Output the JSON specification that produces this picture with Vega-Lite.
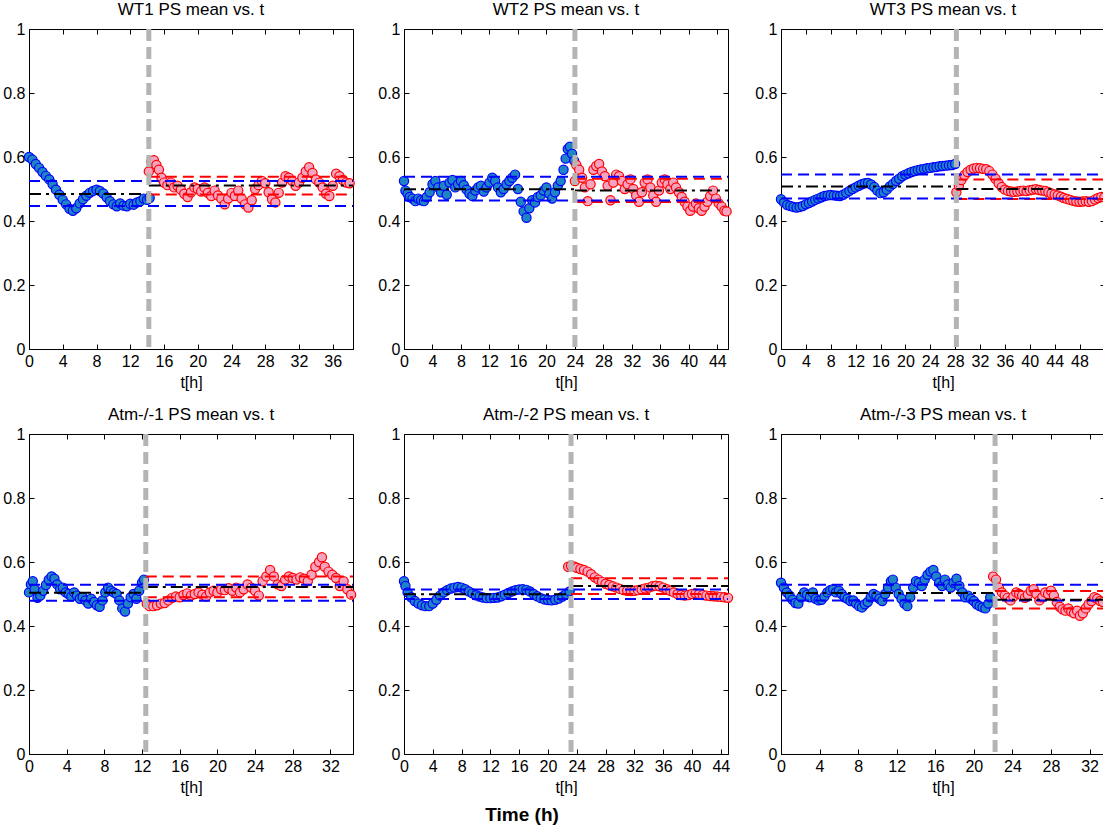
{
  "$schema": "https://vega.github.io/schema/vega-lite/v6.json",
  "padding": {"left": 2, "top": 0, "right": 2, "bottom": 2},
  "background": "white",
  "title": {"text": "Time (h)", "orient": "bottom", "anchor": "middle", "frame": "bounds", "fontSize": 19, "fontWeight": "bold", "font": "Liberation Sans", "color": "black", "dx": -35, "offset": 10},
  "columns": 3,
  "spacing": {"row": 14, "column": 18},
  "datasets": {
    "w1a": [{"t":0,"v":0.6},{"t":0.4,"v":0.592},{"t":0.8,"v":0.578},{"t":1.2,"v":0.566},{"t":1.6,"v":0.553},{"t":2.0,"v":0.541},{"t":2.4,"v":0.53},{"t":2.8,"v":0.515},{"t":3.2,"v":0.498},{"t":3.6,"v":0.482},{"t":4.0,"v":0.466},{"t":4.4,"v":0.452},{"t":4.8,"v":0.438},{"t":5.2,"v":0.432},{"t":5.6,"v":0.44},{"t":6.0,"v":0.455},{"t":6.4,"v":0.468},{"t":6.8,"v":0.479},{"t":7.2,"v":0.488},{"t":7.6,"v":0.494},{"t":8.0,"v":0.498},{"t":8.4,"v":0.494},{"t":8.8,"v":0.486},{"t":9.2,"v":0.474},{"t":9.6,"v":0.462},{"t":10.0,"v":0.452},{"t":10.4,"v":0.446},{"t":10.8,"v":0.455},{"t":11.2,"v":0.448},{"t":11.6,"v":0.446},{"t":12.0,"v":0.454},{"t":12.4,"v":0.451},{"t":12.8,"v":0.458},{"t":13.2,"v":0.462},{"t":13.6,"v":0.47},{"t":14.0,"v":0.466},{"t":14.3,"v":0.472}],
    "w1b": [{"t":14.2,"v":0.555},{"t":14.5,"v":0.585},{"t":14.8,"v":0.59},{"t":15.1,"v":0.575},{"t":15.4,"v":0.56},{"t":15.7,"v":0.535},{"t":16.0,"v":0.52},{"t":16.4,"v":0.512},{"t":16.8,"v":0.52},{"t":17.2,"v":0.505},{"t":17.6,"v":0.51},{"t":18.0,"v":0.498},{"t":18.4,"v":0.485},{"t":18.8,"v":0.475},{"t":19.2,"v":0.49},{"t":19.6,"v":0.505},{"t":20.0,"v":0.5},{"t":20.4,"v":0.492},{"t":20.8,"v":0.505},{"t":21.2,"v":0.488},{"t":21.6,"v":0.478},{"t":22.0,"v":0.495},{"t":22.4,"v":0.48},{"t":22.8,"v":0.47},{"t":23.2,"v":0.452},{"t":23.6,"v":0.47},{"t":24.0,"v":0.488},{"t":24.4,"v":0.478},{"t":24.8,"v":0.495},{"t":25.2,"v":0.47},{"t":25.6,"v":0.452},{"t":26.0,"v":0.442},{"t":26.4,"v":0.465},{"t":26.8,"v":0.5},{"t":27.2,"v":0.512},{"t":27.6,"v":0.525},{"t":28.0,"v":0.518},{"t":28.4,"v":0.49},{"t":28.8,"v":0.468},{"t":29.2,"v":0.458},{"t":29.6,"v":0.488},{"t":30.0,"v":0.52},{"t":30.4,"v":0.54},{"t":30.8,"v":0.535},{"t":31.2,"v":0.525},{"t":31.6,"v":0.51},{"t":32.0,"v":0.52},{"t":32.4,"v":0.535},{"t":32.8,"v":0.555},{"t":33.2,"v":0.568},{"t":33.6,"v":0.55},{"t":34.0,"v":0.53},{"t":34.4,"v":0.52},{"t":34.8,"v":0.505},{"t":35.2,"v":0.485},{"t":35.6,"v":0.478},{"t":36.0,"v":0.51},{"t":36.4,"v":0.548},{"t":36.8,"v":0.54},{"t":37.2,"v":0.528},{"t":37.6,"v":0.52},{"t":38.0,"v":0.518}],
    "w2a": [{"t":0,"v":0.525},{"t":0.2,"v":0.495},{"t":0.5,"v":0.485},{"t":0.8,"v":0.475},{"t":1.2,"v":0.47},{"t":1.6,"v":0.462},{"t":2.0,"v":0.47},{"t":2.4,"v":0.465},{"t":2.8,"v":0.462},{"t":3.2,"v":0.475},{"t":3.6,"v":0.49},{"t":4.0,"v":0.515},{"t":4.4,"v":0.525},{"t":4.8,"v":0.505},{"t":5.2,"v":0.49},{"t":5.6,"v":0.51},{"t":6.0,"v":0.482},{"t":6.4,"v":0.52},{"t":6.8,"v":0.528},{"t":7.2,"v":0.505},{"t":7.6,"v":0.515},{"t":8.0,"v":0.525},{"t":8.4,"v":0.512},{"t":8.8,"v":0.498},{"t":9.2,"v":0.485},{"t":9.6,"v":0.478},{"t":10.0,"v":0.495},{"t":10.4,"v":0.505},{"t":10.8,"v":0.51},{"t":11.2,"v":0.492},{"t":11.6,"v":0.505},{"t":12.0,"v":0.52},{"t":12.4,"v":0.535},{"t":12.8,"v":0.525},{"t":13.2,"v":0.505},{"t":13.6,"v":0.49},{"t":14.0,"v":0.5},{"t":14.4,"v":0.515},{"t":14.8,"v":0.525},{"t":15.2,"v":0.535},{"t":15.6,"v":0.545},{"t":16.0,"v":0.5},{"t":16.4,"v":0.46},{"t":16.8,"v":0.43},{"t":17.2,"v":0.41},{"t":17.6,"v":0.44},{"t":18.0,"v":0.465},{"t":18.4,"v":0.458},{"t":18.8,"v":0.475},{"t":19.2,"v":0.48},{"t":19.6,"v":0.495},{"t":20.0,"v":0.505},{"t":20.4,"v":0.485},{"t":20.8,"v":0.47},{"t":21.2,"v":0.49},{"t":21.6,"v":0.51},{"t":22.0,"v":0.525},{"t":22.4,"v":0.56},{"t":22.7,"v":0.595},{"t":23.0,"v":0.625},{"t":23.3,"v":0.632},{"t":23.6,"v":0.61},{"t":23.9,"v":0.588}],
    "w2b": [{"t":24.0,"v":0.525},{"t":24.2,"v":0.575},{"t":24.6,"v":0.56},{"t":25.0,"v":0.535},{"t":25.4,"v":0.505},{"t":25.8,"v":0.462},{"t":26.2,"v":0.515},{"t":26.6,"v":0.56},{"t":27.0,"v":0.572},{"t":27.4,"v":0.578},{"t":27.8,"v":0.555},{"t":28.2,"v":0.54},{"t":28.6,"v":0.51},{"t":29.0,"v":0.465},{"t":29.4,"v":0.52},{"t":29.8,"v":0.545},{"t":30.2,"v":0.54},{"t":30.6,"v":0.525},{"t":31.0,"v":0.5},{"t":31.4,"v":0.515},{"t":31.8,"v":0.53},{"t":32.2,"v":0.5},{"t":32.6,"v":0.48},{"t":33.0,"v":0.46},{"t":33.4,"v":0.49},{"t":33.8,"v":0.52},{"t":34.2,"v":0.53},{"t":34.6,"v":0.505},{"t":35.0,"v":0.48},{"t":35.4,"v":0.46},{"t":35.8,"v":0.495},{"t":36.2,"v":0.52},{"t":36.6,"v":0.53},{"t":37.0,"v":0.515},{"t":37.4,"v":0.5},{"t":37.8,"v":0.52},{"t":38.2,"v":0.505},{"t":38.6,"v":0.49},{"t":39.0,"v":0.475},{"t":39.4,"v":0.46},{"t":39.8,"v":0.445},{"t":40.2,"v":0.432},{"t":40.6,"v":0.445},{"t":41.0,"v":0.455},{"t":41.4,"v":0.44},{"t":41.8,"v":0.432},{"t":42.2,"v":0.445},{"t":42.6,"v":0.46},{"t":43.0,"v":0.478},{"t":43.4,"v":0.495},{"t":43.8,"v":0.47},{"t":44.2,"v":0.455},{"t":44.6,"v":0.445},{"t":45.0,"v":0.432},{"t":45.3,"v":0.43}],
    "w3a": [{"t":0,"v":0.468},{"t":0.5,"v":0.458},{"t":1.0,"v":0.45},{"t":1.5,"v":0.447},{"t":2.0,"v":0.444},{"t":2.5,"v":0.442},{"t":3.0,"v":0.444},{"t":3.5,"v":0.447},{"t":4.0,"v":0.452},{"t":4.5,"v":0.456},{"t":5.0,"v":0.461},{"t":5.5,"v":0.466},{"t":6.0,"v":0.47},{"t":6.5,"v":0.474},{"t":7.0,"v":0.478},{"t":7.5,"v":0.48},{"t":8.0,"v":0.481},{"t":8.5,"v":0.48},{"t":9.0,"v":0.479},{"t":9.5,"v":0.478},{"t":10.0,"v":0.482},{"t":10.5,"v":0.488},{"t":11.0,"v":0.494},{"t":11.5,"v":0.5},{"t":12.0,"v":0.505},{"t":12.5,"v":0.51},{"t":13.0,"v":0.515},{"t":13.5,"v":0.518},{"t":14.0,"v":0.519},{"t":14.5,"v":0.514},{"t":15.0,"v":0.506},{"t":15.5,"v":0.495},{"t":16.0,"v":0.487},{"t":16.5,"v":0.49},{"t":17.0,"v":0.498},{"t":17.5,"v":0.508},{"t":18.0,"v":0.516},{"t":18.5,"v":0.525},{"t":19.0,"v":0.532},{"t":19.5,"v":0.54},{"t":20.0,"v":0.545},{"t":20.5,"v":0.549},{"t":21.0,"v":0.553},{"t":21.5,"v":0.556},{"t":22.0,"v":0.559},{"t":22.5,"v":0.561},{"t":23.0,"v":0.563},{"t":23.5,"v":0.565},{"t":24.0,"v":0.566},{"t":24.5,"v":0.568},{"t":25.0,"v":0.569},{"t":25.5,"v":0.571},{"t":26.0,"v":0.572},{"t":26.5,"v":0.573},{"t":27.0,"v":0.574},{"t":27.5,"v":0.575},{"t":28.0,"v":0.578}],
    "w3b": [{"t":28.2,"v":0.49},{"t":28.6,"v":0.51},{"t":29.0,"v":0.528},{"t":29.5,"v":0.543},{"t":30.0,"v":0.553},{"t":30.5,"v":0.56},{"t":31.0,"v":0.564},{"t":31.5,"v":0.566},{"t":32.0,"v":0.565},{"t":32.5,"v":0.563},{"t":33.0,"v":0.562},{"t":33.5,"v":0.556},{"t":34.0,"v":0.545},{"t":34.5,"v":0.532},{"t":35.0,"v":0.518},{"t":35.5,"v":0.506},{"t":36.0,"v":0.498},{"t":36.5,"v":0.494},{"t":37.0,"v":0.492},{"t":37.5,"v":0.491},{"t":38.0,"v":0.492},{"t":38.5,"v":0.494},{"t":39.0,"v":0.495},{"t":39.5,"v":0.494},{"t":40.0,"v":0.496},{"t":40.5,"v":0.498},{"t":41.0,"v":0.499},{"t":41.5,"v":0.497},{"t":42.0,"v":0.495},{"t":42.5,"v":0.494},{"t":43.0,"v":0.49},{"t":43.5,"v":0.486},{"t":44.0,"v":0.483},{"t":44.5,"v":0.48},{"t":45.0,"v":0.476},{"t":45.5,"v":0.472},{"t":46.0,"v":0.469},{"t":46.5,"v":0.466},{"t":47.0,"v":0.463},{"t":47.5,"v":0.461},{"t":48.0,"v":0.46},{"t":48.5,"v":0.461},{"t":49.0,"v":0.462},{"t":49.5,"v":0.46},{"t":50.0,"v":0.462},{"t":50.5,"v":0.467},{"t":51.0,"v":0.472},{"t":51.5,"v":0.475},{"t":52.0,"v":0.474}],
    "a1a": [{"t":0,"v":0.505},{"t":0.2,"v":0.53},{"t":0.4,"v":0.54},{"t":0.6,"v":0.515},{"t":0.9,"v":0.488},{"t":1.2,"v":0.495},{"t":1.5,"v":0.51},{"t":1.8,"v":0.528},{"t":2.1,"v":0.545},{"t":2.4,"v":0.555},{"t":2.7,"v":0.548},{"t":3.0,"v":0.53},{"t":3.3,"v":0.515},{"t":3.6,"v":0.52},{"t":3.9,"v":0.505},{"t":4.2,"v":0.5},{"t":4.5,"v":0.492},{"t":4.8,"v":0.505},{"t":5.1,"v":0.495},{"t":5.4,"v":0.485},{"t":5.7,"v":0.49},{"t":6.0,"v":0.48},{"t":6.3,"v":0.47},{"t":6.6,"v":0.485},{"t":6.9,"v":0.475},{"t":7.2,"v":0.465},{"t":7.5,"v":0.46},{"t":7.8,"v":0.48},{"t":8.1,"v":0.505},{"t":8.4,"v":0.52},{"t":8.7,"v":0.51},{"t":9.0,"v":0.505},{"t":9.3,"v":0.5},{"t":9.6,"v":0.48},{"t":9.9,"v":0.455},{"t":10.2,"v":0.445},{"t":10.5,"v":0.47},{"t":10.8,"v":0.49},{"t":11.1,"v":0.5},{"t":11.4,"v":0.485},{"t":11.7,"v":0.51},{"t":12.0,"v":0.535},{"t":12.2,"v":0.545}],
    "a1b": [{"t":12.5,"v":0.47},{"t":12.8,"v":0.462},{"t":13.2,"v":0.462},{"t":13.6,"v":0.465},{"t":14.0,"v":0.47},{"t":14.4,"v":0.472},{"t":14.8,"v":0.48},{"t":15.2,"v":0.488},{"t":15.6,"v":0.492},{"t":16.0,"v":0.49},{"t":16.4,"v":0.497},{"t":16.8,"v":0.502},{"t":17.2,"v":0.495},{"t":17.6,"v":0.5},{"t":18.0,"v":0.505},{"t":18.4,"v":0.498},{"t":18.8,"v":0.492},{"t":19.2,"v":0.505},{"t":19.6,"v":0.51},{"t":20.0,"v":0.505},{"t":20.4,"v":0.515},{"t":20.8,"v":0.512},{"t":21.2,"v":0.518},{"t":21.6,"v":0.51},{"t":22.0,"v":0.52},{"t":22.4,"v":0.505},{"t":22.8,"v":0.515},{"t":23.2,"v":0.53},{"t":23.6,"v":0.52},{"t":24.0,"v":0.51},{"t":24.4,"v":0.495},{"t":24.8,"v":0.54},{"t":25.2,"v":0.555},{"t":25.6,"v":0.575},{"t":26.0,"v":0.555},{"t":26.4,"v":0.53},{"t":26.8,"v":0.525},{"t":27.2,"v":0.545},{"t":27.6,"v":0.555},{"t":28.0,"v":0.55},{"t":28.4,"v":0.545},{"t":28.8,"v":0.552},{"t":29.2,"v":0.548},{"t":29.6,"v":0.54},{"t":30.0,"v":0.56},{"t":30.4,"v":0.585},{"t":30.8,"v":0.6},{"t":31.1,"v":0.615},{"t":31.4,"v":0.585},{"t":31.8,"v":0.57},{"t":32.2,"v":0.56},{"t":32.6,"v":0.55},{"t":33.0,"v":0.525},{"t":33.4,"v":0.54},{"t":33.8,"v":0.515},{"t":34.2,"v":0.498}],
    "a2a": [{"t":0,"v":0.54},{"t":0.2,"v":0.525},{"t":0.5,"v":0.505},{"t":1.0,"v":0.49},{"t":1.5,"v":0.478},{"t":2.0,"v":0.47},{"t":2.5,"v":0.465},{"t":3.0,"v":0.462},{"t":3.5,"v":0.462},{"t":4.0,"v":0.47},{"t":4.5,"v":0.482},{"t":5.0,"v":0.495},{"t":5.5,"v":0.505},{"t":6.0,"v":0.512},{"t":6.5,"v":0.517},{"t":7.0,"v":0.52},{"t":7.5,"v":0.522},{"t":8.0,"v":0.52},{"t":8.5,"v":0.515},{"t":9.0,"v":0.508},{"t":9.5,"v":0.502},{"t":10.0,"v":0.496},{"t":10.5,"v":0.492},{"t":11.0,"v":0.489},{"t":11.5,"v":0.487},{"t":12.0,"v":0.487},{"t":12.5,"v":0.488},{"t":13.0,"v":0.489},{"t":13.5,"v":0.493},{"t":14.0,"v":0.498},{"t":14.5,"v":0.503},{"t":15.0,"v":0.508},{"t":15.5,"v":0.512},{"t":16.0,"v":0.514},{"t":16.5,"v":0.515},{"t":17.0,"v":0.513},{"t":17.5,"v":0.508},{"t":18.0,"v":0.5},{"t":18.5,"v":0.493},{"t":19.0,"v":0.487},{"t":19.5,"v":0.483},{"t":20.0,"v":0.481},{"t":20.5,"v":0.48},{"t":21.0,"v":0.482},{"t":21.5,"v":0.486},{"t":22.0,"v":0.492},{"t":22.5,"v":0.5},{"t":23.0,"v":0.508}],
    "a2b": [{"t":22.8,"v":0.585},{"t":23.2,"v":0.588},{"t":23.6,"v":0.586},{"t":24.0,"v":0.582},{"t":24.5,"v":0.578},{"t":25.0,"v":0.575},{"t":25.5,"v":0.57},{"t":26.0,"v":0.562},{"t":26.5,"v":0.552},{"t":27.0,"v":0.545},{"t":27.5,"v":0.538},{"t":28.0,"v":0.532},{"t":28.5,"v":0.528},{"t":29.0,"v":0.524},{"t":29.5,"v":0.52},{"t":30.0,"v":0.516},{"t":30.5,"v":0.512},{"t":31.0,"v":0.51},{"t":31.5,"v":0.509},{"t":32.0,"v":0.51},{"t":32.5,"v":0.512},{"t":33.0,"v":0.514},{"t":33.5,"v":0.517},{"t":34.0,"v":0.52},{"t":34.5,"v":0.524},{"t":35.0,"v":0.526},{"t":35.5,"v":0.524},{"t":36.0,"v":0.52},{"t":36.5,"v":0.515},{"t":37.0,"v":0.51},{"t":37.5,"v":0.505},{"t":38.0,"v":0.5},{"t":38.5,"v":0.497},{"t":39.0,"v":0.495},{"t":39.5,"v":0.497},{"t":40.0,"v":0.5},{"t":40.5,"v":0.502},{"t":41.0,"v":0.5},{"t":41.5,"v":0.497},{"t":42.0,"v":0.495},{"t":42.5,"v":0.494},{"t":43.0,"v":0.493},{"t":43.5,"v":0.492},{"t":44.0,"v":0.491},{"t":44.5,"v":0.49},{"t":45.0,"v":0.488}],
    "a3a": [{"t":0,"v":0.535},{"t":0.3,"v":0.52},{"t":0.6,"v":0.505},{"t":0.9,"v":0.495},{"t":1.2,"v":0.482},{"t":1.5,"v":0.472},{"t":1.8,"v":0.47},{"t":2.1,"v":0.49},{"t":2.4,"v":0.505},{"t":2.7,"v":0.498},{"t":3.0,"v":0.49},{"t":3.3,"v":0.505},{"t":3.6,"v":0.485},{"t":3.9,"v":0.48},{"t":4.2,"v":0.482},{"t":4.5,"v":0.492},{"t":4.8,"v":0.505},{"t":5.1,"v":0.512},{"t":5.4,"v":0.515},{"t":5.7,"v":0.505},{"t":6.0,"v":0.51},{"t":6.3,"v":0.5},{"t":6.6,"v":0.49},{"t":6.9,"v":0.485},{"t":7.2,"v":0.478},{"t":7.5,"v":0.48},{"t":7.8,"v":0.47},{"t":8.1,"v":0.462},{"t":8.4,"v":0.458},{"t":8.7,"v":0.468},{"t":9.0,"v":0.475},{"t":9.3,"v":0.49},{"t":9.6,"v":0.5},{"t":9.9,"v":0.495},{"t":10.2,"v":0.485},{"t":10.5,"v":0.478},{"t":10.8,"v":0.5},{"t":11.1,"v":0.52},{"t":11.4,"v":0.54},{"t":11.6,"v":0.545},{"t":11.9,"v":0.52},{"t":12.2,"v":0.5},{"t":12.5,"v":0.485},{"t":12.8,"v":0.47},{"t":13.1,"v":0.462},{"t":13.4,"v":0.49},{"t":13.7,"v":0.52},{"t":14.0,"v":0.54},{"t":14.3,"v":0.535},{"t":14.6,"v":0.525},{"t":14.9,"v":0.545},{"t":15.2,"v":0.56},{"t":15.5,"v":0.57},{"t":15.8,"v":0.575},{"t":16.1,"v":0.555},{"t":16.4,"v":0.535},{"t":16.7,"v":0.525},{"t":17.0,"v":0.545},{"t":17.3,"v":0.53},{"t":17.6,"v":0.52},{"t":17.9,"v":0.535},{"t":18.2,"v":0.548},{"t":18.5,"v":0.525},{"t":18.8,"v":0.505},{"t":19.1,"v":0.49},{"t":19.4,"v":0.495},{"t":19.7,"v":0.485},{"t":20.0,"v":0.478},{"t":20.3,"v":0.468},{"t":20.6,"v":0.462},{"t":20.9,"v":0.458},{"t":21.2,"v":0.455},{"t":21.5,"v":0.47},{"t":21.7,"v":0.49}],
    "a3b": [{"t":22.0,"v":0.555},{"t":22.3,"v":0.545},{"t":22.6,"v":0.52},{"t":22.9,"v":0.505},{"t":23.2,"v":0.495},{"t":23.5,"v":0.488},{"t":23.8,"v":0.48},{"t":24.1,"v":0.492},{"t":24.4,"v":0.505},{"t":24.7,"v":0.5},{"t":25.0,"v":0.495},{"t":25.3,"v":0.488},{"t":25.6,"v":0.498},{"t":25.9,"v":0.51},{"t":26.2,"v":0.515},{"t":26.5,"v":0.5},{"t":26.8,"v":0.48},{"t":27.1,"v":0.49},{"t":27.4,"v":0.505},{"t":27.7,"v":0.5},{"t":28.0,"v":0.51},{"t":28.3,"v":0.495},{"t":28.6,"v":0.475},{"t":28.9,"v":0.46},{"t":29.2,"v":0.452},{"t":29.5,"v":0.448},{"t":29.8,"v":0.455},{"t":30.1,"v":0.445},{"t":30.4,"v":0.44},{"t":30.7,"v":0.448},{"t":31.0,"v":0.432},{"t":31.3,"v":0.44},{"t":31.6,"v":0.455},{"t":31.9,"v":0.468},{"t":32.2,"v":0.478},{"t":32.5,"v":0.49},{"t":32.8,"v":0.485},{"t":33.1,"v":0.478},{"t":33.4,"v":0.475}],
    "hl": [
      {"p":"WT1","k":"sdPost","t0":14.2,"t1":38.4,"v":0.538},{"p":"WT1","k":"sdPost","t0":14.2,"t1":38.4,"v":0.483},
      {"p":"WT1","k":"sdPre","t0":0,"t1":38.4,"v":0.525},{"p":"WT1","k":"sdPre","t0":0,"t1":38.4,"v":0.447},
      {"p":"WT1","k":"mean","t0":0,"t1":14.2,"v":0.484},{"p":"WT1","k":"mean","t0":14.2,"t1":38.4,"v":0.511},
      {"p":"WT2","k":"sdPost","t0":24,"t1":45.5,"v":0.532},{"p":"WT2","k":"sdPost","t0":24,"t1":45.5,"v":0.459},
      {"p":"WT2","k":"sdPre","t0":0,"t1":45.5,"v":0.538},{"p":"WT2","k":"sdPre","t0":0,"t1":45.5,"v":0.464},
      {"p":"WT2","k":"mean","t0":0,"t1":24,"v":0.499},{"p":"WT2","k":"mean","t0":24,"t1":45.5,"v":0.495},
      {"p":"WT3","k":"sdPost","t0":28.2,"t1":52.1,"v":0.53},{"p":"WT3","k":"sdPost","t0":28.2,"t1":52.1,"v":0.469},
      {"p":"WT3","k":"sdPre","t0":0,"t1":52.1,"v":0.545},{"p":"WT3","k":"sdPre","t0":0,"t1":52.1,"v":0.47},
      {"p":"WT3","k":"mean","t0":0,"t1":28.2,"v":0.508},{"p":"WT3","k":"mean","t0":28.2,"t1":52.1,"v":0.5},
      {"p":"A1","k":"sdPost","t0":12.4,"t1":34.4,"v":0.555},{"p":"A1","k":"sdPost","t0":12.4,"t1":34.4,"v":0.49},
      {"p":"A1","k":"sdPre","t0":0,"t1":34.4,"v":0.529},{"p":"A1","k":"sdPre","t0":0,"t1":34.4,"v":0.479},
      {"p":"A1","k":"mean","t0":0,"t1":12.4,"v":0.504},{"p":"A1","k":"mean","t0":12.4,"t1":34.4,"v":0.522},
      {"p":"A2","k":"sdPost","t0":23.2,"t1":45,"v":0.549},{"p":"A2","k":"sdPost","t0":23.2,"t1":45,"v":0.5},
      {"p":"A2","k":"sdPre","t0":0,"t1":45,"v":0.514},{"p":"A2","k":"sdPre","t0":0,"t1":45,"v":0.484},
      {"p":"A2","k":"mean","t0":0,"t1":23.2,"v":0.499},{"p":"A2","k":"mean","t0":23.2,"t1":45,"v":0.525},
      {"p":"A3","k":"sdPost","t0":22.2,"t1":33.6,"v":0.509},{"p":"A3","k":"sdPost","t0":22.2,"t1":33.6,"v":0.455},
      {"p":"A3","k":"sdPre","t0":0,"t1":33.6,"v":0.529},{"p":"A3","k":"sdPre","t0":0,"t1":33.6,"v":0.48},
      {"p":"A3","k":"mean","t0":0,"t1":22.2,"v":0.503},{"p":"A3","k":"mean","t0":22.2,"t1":33.6,"v":0.482}
    ],
    "cut": [{"p":"WT1","t":14.2},{"p":"WT2","t":24},{"p":"WT3","t":28.2},{"p":"A1","t":12.4},{"p":"A2","t":23.2},{"p":"A3","t":22.2}]
  },
  "concat": [
    {
      "title": "WT1 PS mean vs. t",
      "width": 324, "height": 320,
      "resolve": {"axis": {"x": "independent", "y": "independent"}},
      "layer": [
        {"data": {"name": "w1a"}, "mark": {"type": "point", "shape": "circle", "filled": true, "fill": "#1f84c4", "stroke": "#0000ff", "strokeWidth": 1.2, "size": 85, "opacity": 1},
         "encoding": {"x": {"field": "t", "type": "quantitative", "scale": {"domain": [0, 38.4], "nice": false, "zero": false}, "axis": {"values": [0,4,8,12,16,20,24,28,32,36], "title": "t[h]"}},
                      "y": {"field": "v", "type": "quantitative", "scale": {"domain": [0, 1]}, "axis": {"values": [0,0.2,0.4,0.6,0.8,1], "format": "~g", "title": null}}}},
        {"data": {"name": "w1b"}, "mark": {"type": "point", "shape": "circle", "filled": true, "fill": "#f6a3c0", "stroke": "#ff0000", "strokeWidth": 1.2, "size": 85, "opacity": 1},
         "encoding": {"x": {"field": "t", "type": "quantitative", "axis": {"orient": "top", "values": [0,4,8,12,16,20,24,28,32,36], "labels": false, "title": null, "domain": false}},
                      "y": {"field": "v", "type": "quantitative", "axis": {"orient": "right", "values": [0,0.2,0.4,0.6,0.8,1], "labels": false, "title": null, "domain": false}}}},
        {"data": {"name": "hl"}, "transform": [{"filter": "datum.p == 'WT1'"}], "mark": {"type": "rule", "strokeWidth": 2},
         "encoding": {"x": {"field": "t0", "type": "quantitative", "axis": null}, "x2": {"field": "t1"}, "y": {"field": "v", "type": "quantitative", "axis": null},
                      "color": {"field": "k", "type": "nominal", "scale": {"domain": ["sdPost", "sdPre", "mean"], "range": ["#ff0000", "#0000ff", "#000000"]}, "legend": null},
                      "strokeDash": {"field": "k", "type": "nominal", "scale": {"domain": ["sdPost", "sdPre", "mean"], "range": [[11, 6], [11, 6], [12, 5, 3, 5]]}, "legend": null}}},
        {"data": {"name": "cut"}, "transform": [{"filter": "datum.p == 'WT1'"}], "mark": {"type": "rule", "color": "#b4b4b4", "strokeWidth": 5, "strokeDash": [12, 6]},
         "encoding": {"x": {"field": "t", "type": "quantitative", "axis": null}}}
      ]
    },
    {
      "title": "WT2 PS mean vs. t",
      "width": 324, "height": 320,
      "resolve": {"axis": {"x": "independent", "y": "independent"}},
      "layer": [
        {"data": {"name": "w2a"}, "mark": {"type": "point", "shape": "circle", "filled": true, "fill": "#1f84c4", "stroke": "#0000ff", "strokeWidth": 1.2, "size": 85, "opacity": 1},
         "encoding": {"x": {"field": "t", "type": "quantitative", "scale": {"domain": [0, 45.5], "nice": false, "zero": false}, "axis": {"values": [0,4,8,12,16,20,24,28,32,36,40,44], "title": "t[h]"}},
                      "y": {"field": "v", "type": "quantitative", "scale": {"domain": [0, 1]}, "axis": {"values": [0,0.2,0.4,0.6,0.8,1], "format": "~g", "title": null}}}},
        {"data": {"name": "w2b"}, "mark": {"type": "point", "shape": "circle", "filled": true, "fill": "#f6a3c0", "stroke": "#ff0000", "strokeWidth": 1.2, "size": 85, "opacity": 1},
         "encoding": {"x": {"field": "t", "type": "quantitative", "axis": {"orient": "top", "values": [0,4,8,12,16,20,24,28,32,36,40,44], "labels": false, "title": null, "domain": false}},
                      "y": {"field": "v", "type": "quantitative", "axis": {"orient": "right", "values": [0,0.2,0.4,0.6,0.8,1], "labels": false, "title": null, "domain": false}}}},
        {"data": {"name": "hl"}, "transform": [{"filter": "datum.p == 'WT2'"}], "mark": {"type": "rule", "strokeWidth": 2},
         "encoding": {"x": {"field": "t0", "type": "quantitative", "axis": null}, "x2": {"field": "t1"}, "y": {"field": "v", "type": "quantitative", "axis": null},
                      "color": {"field": "k", "type": "nominal", "scale": {"domain": ["sdPost", "sdPre", "mean"], "range": ["#ff0000", "#0000ff", "#000000"]}, "legend": null},
                      "strokeDash": {"field": "k", "type": "nominal", "scale": {"domain": ["sdPost", "sdPre", "mean"], "range": [[11, 6], [11, 6], [12, 5, 3, 5]]}, "legend": null}}},
        {"data": {"name": "cut"}, "transform": [{"filter": "datum.p == 'WT2'"}], "mark": {"type": "rule", "color": "#b4b4b4", "strokeWidth": 5, "strokeDash": [12, 6]},
         "encoding": {"x": {"field": "t", "type": "quantitative", "axis": null}}}
      ]
    },
    {
      "title": "WT3 PS mean vs. t",
      "width": 324, "height": 320,
      "resolve": {"axis": {"x": "independent", "y": "independent"}},
      "layer": [
        {"data": {"name": "w3a"}, "mark": {"type": "point", "shape": "circle", "filled": true, "fill": "#1f84c4", "stroke": "#0000ff", "strokeWidth": 1.2, "size": 85, "opacity": 1},
         "encoding": {"x": {"field": "t", "type": "quantitative", "scale": {"domain": [0, 52.1], "nice": false, "zero": false}, "axis": {"values": [0,4,8,12,16,20,24,28,32,36,40,44,48], "title": "t[h]"}},
                      "y": {"field": "v", "type": "quantitative", "scale": {"domain": [0, 1]}, "axis": {"values": [0,0.2,0.4,0.6,0.8,1], "format": "~g", "title": null}}}},
        {"data": {"name": "w3b"}, "mark": {"type": "point", "shape": "circle", "filled": true, "fill": "#f6a3c0", "stroke": "#ff0000", "strokeWidth": 1.2, "size": 85, "opacity": 1},
         "encoding": {"x": {"field": "t", "type": "quantitative", "axis": {"orient": "top", "values": [0,4,8,12,16,20,24,28,32,36,40,44,48], "labels": false, "title": null, "domain": false}},
                      "y": {"field": "v", "type": "quantitative", "axis": {"orient": "right", "values": [0,0.2,0.4,0.6,0.8,1], "labels": false, "title": null, "domain": false}}}},
        {"data": {"name": "hl"}, "transform": [{"filter": "datum.p == 'WT3'"}], "mark": {"type": "rule", "strokeWidth": 2},
         "encoding": {"x": {"field": "t0", "type": "quantitative", "axis": null}, "x2": {"field": "t1"}, "y": {"field": "v", "type": "quantitative", "axis": null},
                      "color": {"field": "k", "type": "nominal", "scale": {"domain": ["sdPost", "sdPre", "mean"], "range": ["#ff0000", "#0000ff", "#000000"]}, "legend": null},
                      "strokeDash": {"field": "k", "type": "nominal", "scale": {"domain": ["sdPost", "sdPre", "mean"], "range": [[11, 6], [11, 6], [12, 5, 3, 5]]}, "legend": null}}},
        {"data": {"name": "cut"}, "transform": [{"filter": "datum.p == 'WT3'"}], "mark": {"type": "rule", "color": "#b4b4b4", "strokeWidth": 5, "strokeDash": [12, 6]},
         "encoding": {"x": {"field": "t", "type": "quantitative", "axis": null}}}
      ]
    },
    {
      "title": "Atm-/-1 PS mean vs. t",
      "width": 324, "height": 320,
      "resolve": {"axis": {"x": "independent", "y": "independent"}},
      "layer": [
        {"data": {"name": "a1a"}, "mark": {"type": "point", "shape": "circle", "filled": true, "fill": "#1f84c4", "stroke": "#0000ff", "strokeWidth": 1.2, "size": 85, "opacity": 1},
         "encoding": {"x": {"field": "t", "type": "quantitative", "scale": {"domain": [0, 34.4], "nice": false, "zero": false}, "axis": {"values": [0,4,8,12,16,20,24,28,32], "title": "t[h]"}},
                      "y": {"field": "v", "type": "quantitative", "scale": {"domain": [0, 1]}, "axis": {"values": [0,0.2,0.4,0.6,0.8,1], "format": "~g", "title": null}}}},
        {"data": {"name": "a1b"}, "mark": {"type": "point", "shape": "circle", "filled": true, "fill": "#f6a3c0", "stroke": "#ff0000", "strokeWidth": 1.2, "size": 85, "opacity": 1},
         "encoding": {"x": {"field": "t", "type": "quantitative", "axis": {"orient": "top", "values": [0,4,8,12,16,20,24,28,32], "labels": false, "title": null, "domain": false}},
                      "y": {"field": "v", "type": "quantitative", "axis": {"orient": "right", "values": [0,0.2,0.4,0.6,0.8,1], "labels": false, "title": null, "domain": false}}}},
        {"data": {"name": "hl"}, "transform": [{"filter": "datum.p == 'A1'"}], "mark": {"type": "rule", "strokeWidth": 2},
         "encoding": {"x": {"field": "t0", "type": "quantitative", "axis": null}, "x2": {"field": "t1"}, "y": {"field": "v", "type": "quantitative", "axis": null},
                      "color": {"field": "k", "type": "nominal", "scale": {"domain": ["sdPost", "sdPre", "mean"], "range": ["#ff0000", "#0000ff", "#000000"]}, "legend": null},
                      "strokeDash": {"field": "k", "type": "nominal", "scale": {"domain": ["sdPost", "sdPre", "mean"], "range": [[11, 6], [11, 6], [12, 5, 3, 5]]}, "legend": null}}},
        {"data": {"name": "cut"}, "transform": [{"filter": "datum.p == 'A1'"}], "mark": {"type": "rule", "color": "#b4b4b4", "strokeWidth": 5, "strokeDash": [12, 6]},
         "encoding": {"x": {"field": "t", "type": "quantitative", "axis": null}}}
      ]
    },
    {
      "title": "Atm-/-2 PS mean vs. t",
      "width": 324, "height": 320,
      "resolve": {"axis": {"x": "independent", "y": "independent"}},
      "layer": [
        {"data": {"name": "a2a"}, "mark": {"type": "point", "shape": "circle", "filled": true, "fill": "#1f84c4", "stroke": "#0000ff", "strokeWidth": 1.2, "size": 85, "opacity": 1},
         "encoding": {"x": {"field": "t", "type": "quantitative", "scale": {"domain": [0, 45], "nice": false, "zero": false}, "axis": {"values": [0,4,8,12,16,20,24,28,32,36,40,44], "title": "t[h]"}},
                      "y": {"field": "v", "type": "quantitative", "scale": {"domain": [0, 1]}, "axis": {"values": [0,0.2,0.4,0.6,0.8,1], "format": "~g", "title": null}}}},
        {"data": {"name": "a2b"}, "mark": {"type": "point", "shape": "circle", "filled": true, "fill": "#f6a3c0", "stroke": "#ff0000", "strokeWidth": 1.2, "size": 85, "opacity": 1},
         "encoding": {"x": {"field": "t", "type": "quantitative", "axis": {"orient": "top", "values": [0,4,8,12,16,20,24,28,32,36,40,44], "labels": false, "title": null, "domain": false}},
                      "y": {"field": "v", "type": "quantitative", "axis": {"orient": "right", "values": [0,0.2,0.4,0.6,0.8,1], "labels": false, "title": null, "domain": false}}}},
        {"data": {"name": "hl"}, "transform": [{"filter": "datum.p == 'A2'"}], "mark": {"type": "rule", "strokeWidth": 2},
         "encoding": {"x": {"field": "t0", "type": "quantitative", "axis": null}, "x2": {"field": "t1"}, "y": {"field": "v", "type": "quantitative", "axis": null},
                      "color": {"field": "k", "type": "nominal", "scale": {"domain": ["sdPost", "sdPre", "mean"], "range": ["#ff0000", "#0000ff", "#000000"]}, "legend": null},
                      "strokeDash": {"field": "k", "type": "nominal", "scale": {"domain": ["sdPost", "sdPre", "mean"], "range": [[11, 6], [11, 6], [12, 5, 3, 5]]}, "legend": null}}},
        {"data": {"name": "cut"}, "transform": [{"filter": "datum.p == 'A2'"}], "mark": {"type": "rule", "color": "#b4b4b4", "strokeWidth": 5, "strokeDash": [12, 6]},
         "encoding": {"x": {"field": "t", "type": "quantitative", "axis": null}}}
      ]
    },
    {
      "title": "Atm-/-3 PS mean vs. t",
      "width": 324, "height": 320,
      "resolve": {"axis": {"x": "independent", "y": "independent"}},
      "layer": [
        {"data": {"name": "a3a"}, "mark": {"type": "point", "shape": "circle", "filled": true, "fill": "#1f84c4", "stroke": "#0000ff", "strokeWidth": 1.2, "size": 85, "opacity": 1},
         "encoding": {"x": {"field": "t", "type": "quantitative", "scale": {"domain": [0, 33.6], "nice": false, "zero": false}, "axis": {"values": [0,4,8,12,16,20,24,28,32], "title": "t[h]"}},
                      "y": {"field": "v", "type": "quantitative", "scale": {"domain": [0, 1]}, "axis": {"values": [0,0.2,0.4,0.6,0.8,1], "format": "~g", "title": null}}}},
        {"data": {"name": "a3b"}, "mark": {"type": "point", "shape": "circle", "filled": true, "fill": "#f6a3c0", "stroke": "#ff0000", "strokeWidth": 1.2, "size": 85, "opacity": 1},
         "encoding": {"x": {"field": "t", "type": "quantitative", "axis": {"orient": "top", "values": [0,4,8,12,16,20,24,28,32], "labels": false, "title": null, "domain": false}},
                      "y": {"field": "v", "type": "quantitative", "axis": {"orient": "right", "values": [0,0.2,0.4,0.6,0.8,1], "labels": false, "title": null, "domain": false}}}},
        {"data": {"name": "hl"}, "transform": [{"filter": "datum.p == 'A3'"}], "mark": {"type": "rule", "strokeWidth": 2},
         "encoding": {"x": {"field": "t0", "type": "quantitative", "axis": null}, "x2": {"field": "t1"}, "y": {"field": "v", "type": "quantitative", "axis": null},
                      "color": {"field": "k", "type": "nominal", "scale": {"domain": ["sdPost", "sdPre", "mean"], "range": ["#ff0000", "#0000ff", "#000000"]}, "legend": null},
                      "strokeDash": {"field": "k", "type": "nominal", "scale": {"domain": ["sdPost", "sdPre", "mean"], "range": [[11, 6], [11, 6], [12, 5, 3, 5]]}, "legend": null}}},
        {"data": {"name": "cut"}, "transform": [{"filter": "datum.p == 'A3'"}], "mark": {"type": "rule", "color": "#b4b4b4", "strokeWidth": 5, "strokeDash": [12, 6]},
         "encoding": {"x": {"field": "t", "type": "quantitative", "axis": null}}}
      ]
    }
  ],
  "config": {
    "view": {"stroke": "#000000", "strokeWidth": 1},
    "font": "Liberation Sans",
    "axis": {"grid": false, "domainColor": "#000000", "tickColor": "#000000", "tickSize": -5, "labelPadding": 9, "labelColor": "#000000", "labelFont": "Liberation Sans", "labelFontSize": 16, "titleFont": "Liberation Sans", "titleFontSize": 16, "titleFontWeight": "normal", "titleColor": "#000000", "titlePadding": 5, "labelFlush": false, "labelOverlap": false},
    "title": {"font": "Liberation Sans", "fontSize": 17, "fontWeight": "normal", "color": "#000000", "frame": "group", "anchor": "middle", "offset": 2}
  }
}
